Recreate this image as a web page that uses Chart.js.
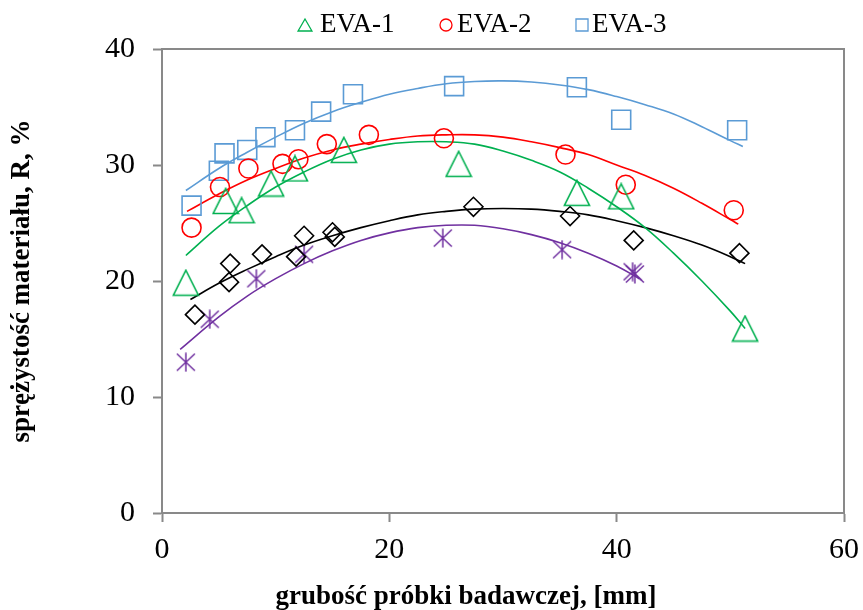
<!DOCTYPE html>
<html><head><meta charset="utf-8">
<script src="https://cdn.jsdelivr.net/npm/chart.js@4/dist/chart.umd.min.js"></script>
<style>html,body{margin:0;padding:0;background:#fff}#wrap{width:863px;height:610px}</style>
</head><body><div id="wrap"><canvas id="c" width="863" height="610"></canvas></div>
<script>
// ---- data ----
const xTicks = [0, 20, 40, 60];
const yTicks = [0, 10, 20, 30, 40];
const seriesNames = ['EVA-1', 'EVA-2', 'EVA-3'];
const xTitle = 'grubość próbki badawczej, [mm]';
const yTitle = 'sprężystość materiału, R, %';

const eva1X = [2.1, 5.6, 7.0, 9.6, 11.7, 16.0, 26.1, 36.5, 40.4, 51.3];
const eva1Y = [19.85, 26.9, 26.1, 28.4, 29.7, 31.3, 30.1, 27.6, 27.3, 15.9];
const eva2X = [2.6, 5.1, 7.6, 10.6, 12.0, 14.5, 18.2, 24.8, 35.5, 40.8, 50.3];
const eva2Y = [24.6, 28.1, 29.7, 30.1, 30.5, 31.8, 32.6, 32.3, 30.9, 28.3, 26.1];
const eva3X = [2.6, 5.0, 5.5, 7.5, 9.1, 11.7, 14.0, 16.8, 25.7, 36.5, 40.4, 50.6];
const eva3Y = [26.5, 29.5, 31.0, 31.3, 32.4, 33.0, 34.6, 36.1, 36.8, 36.7, 33.9, 33.0];
const blackX = [2.9, 6.0, 5.9, 8.8, 11.8, 12.5, 15.0, 15.2, 27.4, 35.9, 41.5, 50.8];
const blackY = [17.1, 21.5, 19.9, 22.3, 22.1, 23.9, 24.2, 23.8, 26.4, 25.6, 23.5, 22.4];
const purpleX = [2.1, 4.2, 8.3, 12.5, 24.7, 35.2, 41.4, 41.6];
const purpleY = [13.0, 16.7, 20.2, 22.3, 23.7, 22.7, 20.8, 20.6];

// trend curves
const trend1X = [2.1, 5, 7.5, 10, 12.5, 15, 17.5, 20, 22.5, 25, 27.5, 30, 32.5, 35, 37.5, 40, 42.5, 45, 47.5, 50, 51.3];
const trend1Y = [22.2, 24.7, 26.5, 28.1, 29.4, 30.5, 31.3, 31.8, 32.0, 32.0, 31.8, 31.2, 30.4, 29.4, 28.0, 26.4, 24.6, 22.4, 20.0, 17.4, 15.9];
const trend2X = [2.2, 5, 7.5, 10, 12.5, 15, 17.5, 20, 22.5, 25, 27.5, 30, 32.5, 35, 37.5, 40, 42.5, 45, 47.5, 50, 50.7];
const trend2Y = [26.0, 27.5, 28.7, 29.7, 30.6, 31.3, 31.8, 32.2, 32.5, 32.6, 32.6, 32.4, 32.0, 31.5, 30.9, 30.0, 29.1, 28.0, 26.7, 25.3, 24.9];
const trend3X = [2.1, 5, 7.5, 10, 12.5, 15, 17.5, 20, 22.5, 25, 27.5, 30, 32.5, 35, 37.5, 40, 42.5, 45, 47.5, 50, 51.1];
const trend3Y = [27.8, 29.7, 31.1, 32.4, 33.6, 34.6, 35.4, 36.1, 36.6, 37.0, 37.2, 37.25, 37.15, 36.9, 36.5, 35.9, 35.2, 34.4, 33.3, 32.1, 31.6];
const trendBX = [2.5, 5, 7.5, 10, 12.5, 15, 17.5, 20, 22.5, 25, 27.5, 30, 32.5, 35, 37.5, 40, 42.5, 45, 47.5, 50, 51.3];
const trendBY = [18.4, 19.8, 21.0, 22.1, 23.1, 23.9, 24.6, 25.2, 25.7, 26.0, 26.2, 26.25, 26.2, 26.0, 25.7, 25.2, 24.6, 23.9, 23.1, 22.1, 21.5];
const trendPX = [1.6, 5, 7.5, 10, 12.5, 15, 17.5, 20, 22.5, 25, 27.5, 30, 32.5, 35, 37.5, 40, 42];
const trendPY = [14.1, 16.9, 18.7, 20.2, 21.5, 22.6, 23.5, 24.15, 24.6, 24.8, 24.8, 24.5, 24.0, 23.3, 22.4, 21.3, 20.2];

// ---- styling ----
const GREEN = '#00B050', RED = '#FF0000', BLUE = '#5B9BD5', BLACK = '#000000', PURPLE = '#7030A0';
const FRAME = '#898989';
const SERIF = "'Liberation Serif', 'Times New Roman', serif";

function pts(xs, ys) { return xs.map((x, i) => ({ x: x, y: ys[i] })); }

function triangleImg(color) {
  const c = document.createElement('canvas'); c.width = 28; c.height = 28;
  const g = c.getContext('2d'); g.strokeStyle = color; g.lineWidth = 1.6;
  g.beginPath(); g.moveTo(14, 1.5); g.lineTo(26.5, 26.5); g.lineTo(1.5, 26.5); g.closePath(); g.stroke();
  return c;
}
function starImg(color) {
  const c = document.createElement('canvas'); c.width = 20; c.height = 20;
  const g = c.getContext('2d'); g.strokeStyle = color; g.lineWidth = 1.5;
  g.beginPath();
  g.moveTo(10, 0.5); g.lineTo(10, 19.5);
  g.moveTo(1, 1.5); g.lineTo(19, 18.5);
  g.moveTo(1, 18.5); g.lineTo(19, 1.5);
  g.stroke();
  return c;
}

function markerSet(label, xs, ys, color, style, radius) {
  return { label: label, data: pts(xs, ys), showLine: false, pointStyle: style, pointRadius: radius,
    pointBorderColor: color, pointBackgroundColor: 'rgba(0,0,0,0)', pointBorderWidth: 1.6, borderColor: color };
}
function trendSet(label, xs, ys, color) {
  return { label: label, data: pts(xs, ys), showLine: true, pointRadius: 0, borderColor: color,
    borderWidth: 1.6, tension: 0.4, fill: false };
}

const frameAndLegend = {
  id: 'frameAndLegend',
  afterDatasetsDraw(chart) {
    const a = chart.chartArea, ctx = chart.ctx;
    ctx.save();
    ctx.strokeStyle = FRAME; ctx.lineWidth = 2;
    ctx.beginPath();
    ctx.moveTo(a.left, a.top); ctx.lineTo(a.right, a.top); ctx.lineTo(a.right, a.bottom);
    ctx.stroke();
    ctx.restore();
  },
  afterDraw(chart) {
    const ctx = chart.ctx;
    const items = [
      { text: seriesNames[0], style: 'triangle', color: GREEN, mx: 305, tx: 320 },
      { text: seriesNames[1], style: 'circle', color: RED, mx: 446, tx: 457 },
      { text: seriesNames[2], style: 'rect', color: BLUE, mx: 582, tx: 592 }
    ];
    const cy = 25;
    ctx.save();
    items.forEach(it => {
      ctx.strokeStyle = it.color; ctx.fillStyle = 'rgba(0,0,0,0)'; ctx.lineWidth = 1.3;
      const r = it.style === 'triangle' ? 8 : (it.style === 'rect' ? 8.5 : 6);
      Chart.helpers.drawPoint(ctx, { pointStyle: it.style, radius: r, borderWidth: 1.3, rotation: 0 }, it.mx, it.style === 'triangle' ? cy + 2 : cy);
      ctx.fillStyle = '#000'; ctx.font = "27px " + SERIF; ctx.textBaseline = 'middle'; ctx.textAlign = 'left';
      ctx.fillText(it.text, it.tx, cy);
    });
    // x-axis title (offset left of the plot centre, as in the reference)
    ctx.fillStyle = '#000'; ctx.font = "bold 27px " + SERIF; ctx.textAlign = 'center'; ctx.textBaseline = 'middle';
    ctx.fillText(xTitle, 466, 597);
    ctx.restore();
  }
};

const tri = triangleImg(GREEN);
const star = starImg(PURPLE);

new Chart(document.getElementById('c'), {
  type: 'scatter',
  data: {
    datasets: [
      markerSet(seriesNames[0], eva1X, eva1Y, GREEN, tri, 13),
      markerSet(seriesNames[1], eva2X, eva2Y, RED, 'circle', 9.5),
      markerSet(seriesNames[2], eva3X, eva3Y, BLUE, 'rect', 13.4),
      markerSet('seria 4', blackX, blackY, BLACK, 'rectRot', 9.5),
      markerSet('seria 5', purpleX, purpleY, PURPLE, star, 10),
      trendSet('trend EVA-1', trend1X, trend1Y, GREEN),
      trendSet('trend EVA-2', trend2X, trend2Y, RED),
      trendSet('trend EVA-3', trend3X, trend3Y, BLUE),
      trendSet('trend 4', trendBX, trendBY, BLACK),
      trendSet('trend 5', trendPX, trendPY, PURPLE)
    ]
  },
  options: {
    responsive: false,
    animation: false,
    layout: { padding: { top: 49, right: 19, left: 0, bottom: 0 } },
    plugins: { legend: { display: false }, tooltip: { enabled: false } },
    scales: {
      x: {
        type: 'linear', min: 0, max: 60,
        afterBuildTicks: s => { s.ticks = xTicks.map(v => ({ value: v })); },
        afterFit: s => { s.height = 97; s.paddingLeft = 0; s.paddingRight = 0; },
        grid: { display: true, drawOnChartArea: false, drawTicks: true, tickLength: 9, tickWidth: 2, tickColor: FRAME },
        border: { display: true, color: FRAME, width: 2 },
        ticks: { color: '#000', font: { family: SERIF, size: 30 }, padding: 10 },
        title: { display: false, text: xTitle }
      },
      y: {
        type: 'linear', min: 0, max: 40,
        afterBuildTicks: s => { s.ticks = yTicks.map(v => ({ value: v })); },
        afterFit: s => { s.width = 162; s.paddingTop = 0; s.paddingBottom = 0; },
        grid: { display: true, drawOnChartArea: false, drawTicks: true, tickLength: 9, tickWidth: 2, tickColor: FRAME },
        border: { display: true, color: FRAME, width: 2 },
        ticks: { color: '#000', font: { family: SERIF, size: 30 }, padding: 18 },
        title: { display: true, text: yTitle, color: '#000',
          font: { family: SERIF, size: 27, weight: 'bold', lineHeight: 1 }, padding: { top: 9, bottom: 0 } }
      }
    }
  },
  plugins: [frameAndLegend]
});
</script>
</body></html>
